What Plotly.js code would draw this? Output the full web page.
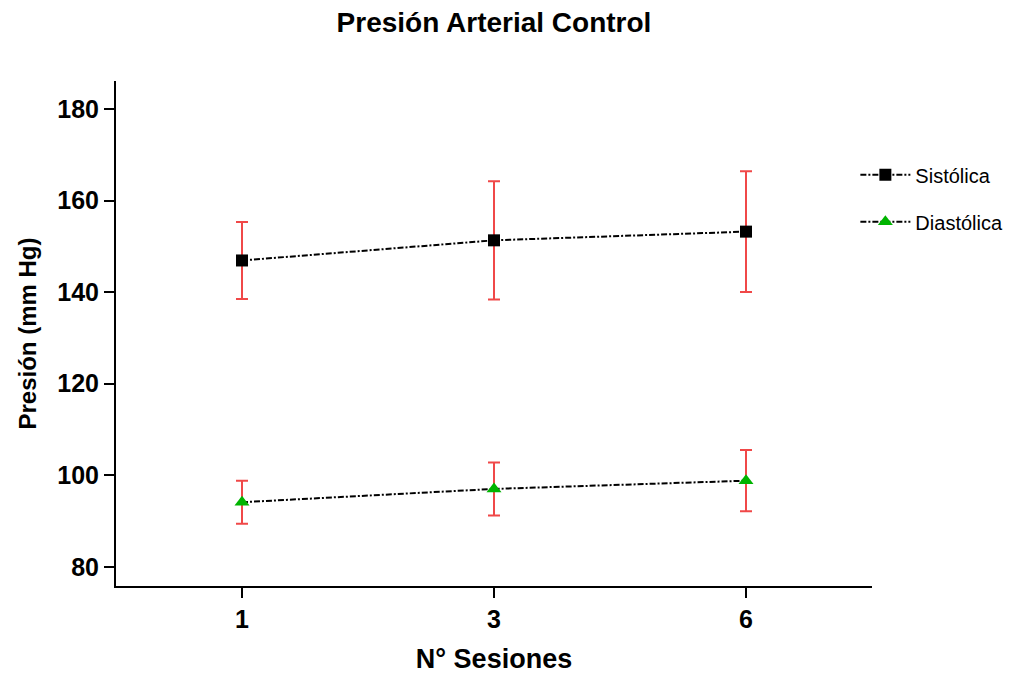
<!DOCTYPE html>
<html>
<head>
<meta charset="utf-8">
<script src="https://cdn.plot.ly/plotly-3.0.1.min.js"></script>
<style>html,body{margin:0;padding:0;background:#fff;}#chart{width:1021px;height:674px;}</style>
</head>
<body>
<div id="chart"></div>
<script>
const sessions = ['1', '3', '6'];
const sistolica = [146.9, 151.3, 153.2];
const sistolicaErr = [8.4, 12.9, 13.2];
const diastolica = [94.1, 97.0, 98.8];
const diastolicaErr = [4.7, 5.8, 6.7];

const F = 'Liberation Sans, Arial, sans-serif';
const FN = 'Liberation Sans Narrow, Arial Narrow, Liberation Sans, sans-serif';
const errColor = 'rgb(240,72,72)';

const traces = [
  {
    x: sessions, y: sistolica, name: 'Sistólica', type: 'scatter', mode: 'lines+markers',
    legendgroup: 'a',
    line: {color: '#000', width: 2, dash: '6px,2px,2px,2px'},
    marker: {symbol: 'square', size: 12, color: '#000'},
    error_y: {type: 'data', array: sistolicaErr, visible: true, color: errColor, thickness: 2, width: 6}
  },
  {
    x: sessions, y: diastolica, name: 'Diastólica', type: 'scatter', mode: 'lines+markers',
    legendgroup: 'b',
    line: {color: '#000', width: 2, dash: '6px,2px,2px,2px'},
    marker: {symbol: 'triangle-up', size: 13, color: '#00b400'},
    error_y: {type: 'data', array: diastolicaErr, visible: true, color: errColor, thickness: 2, width: 6}
  }
];

const layout = {
  width: 1021, height: 674,
  margin: {l: 116, r: 149, t: 81, b: 88},
  paper_bgcolor: '#fff', plot_bgcolor: '#fff',
  title: {text: '<b>Presión Arterial Control</b>', x: 0.5, xref: 'paper', y: 0.967, yanchor: 'middle',
          font: {family: F, size: 28, color: '#000'}},
  showlegend: true,
  legend: {x: 0.978, xanchor: 'left', y: 0.853, yanchor: 'top', tracegroupgap: 18,
           font: {family: FN, size: 20, color: '#000'}, itemwidth: 50, bgcolor: 'rgba(0,0,0,0)'},
  xaxis: {
    type: 'category', categoryorder: 'array', categoryarray: sessions,
    range: [-0.5, 2.5], showline: true, linecolor: '#000', linewidth: 2,
    ticks: 'outside', ticklen: 10, tickwidth: 2, tickcolor: '#000',
    showgrid: false, zeroline: false,
    tickfont: {family: F, size: 25, color: '#000', weight: 'bold'},
    title: {text: '<b>N° Sesiones</b>', font: {family: F, size: 27, color: '#000'}, standoff: 20}
  },
  yaxis: {
    range: [75.8, 186.1], tickvals: [80, 100, 120, 140, 160, 180],
    showline: true, linecolor: '#000', linewidth: 2,
    ticks: 'outside', ticklen: 10, tickwidth: 2, tickcolor: '#000',
    showgrid: false, zeroline: false,
    tickfont: {family: F, size: 25, color: '#000', weight: 'bold'},
    title: {text: '<b>Presión (mm Hg)</b>', font: {family: F, size: 24, color: '#000'}, standoff: 14}
  }
};

Plotly.newPlot('chart', traces, layout, {displayModeBar: false, staticPlot: true});
</script>
</body>
</html>
